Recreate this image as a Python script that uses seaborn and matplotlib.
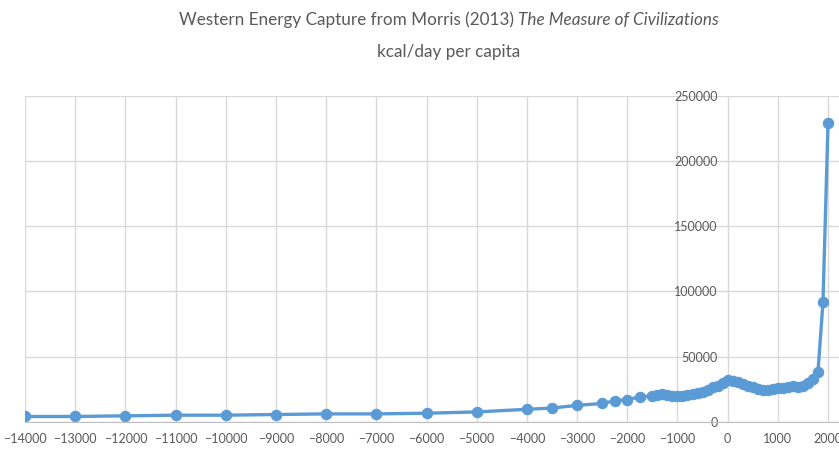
import matplotlib
matplotlib.use("Agg")
import matplotlib.pyplot as plt
import seaborn as sns
import pandas as pd

# Morris (2013) western energy capture, kcal/day per capita
years = [-14000, -13000, -12000, -11000, -10000, -9000, -8000, -7000, -6000,
         -5000, -4000, -3500, -3000, -2500, -2250, -2000, -1750,
         -1500, -1400, -1300, -1200, -1100, -1000, -900, -800, -700, -600,
         -500, -400, -300, -200, -100, 0, 100, 200, 300, 400, 500, 600, 700,
         800, 900, 1000, 1100, 1200, 1300, 1400, 1500, 1600, 1700, 1800,
         1900, 2000]
energy = [4000, 4000, 4500, 5000, 5000, 5500, 6000, 6000, 6500,
          7500, 9500, 10500, 12500, 14000, 16000, 17000, 19000,
          20000, 20500, 21200, 20500, 20000, 20000, 20000, 20500, 21000, 21700,
          23000, 24300, 26400, 27600, 29400, 32000, 31200, 30200, 28700, 27400,
          26400, 25100, 24300, 24300, 24800, 25600, 26100, 26900, 27400, 26400,
          27400, 29400, 32500, 38300, 91800, 229000]
xticks = list(range(-14000, 2001, 1000))
yticks = [0, 50000, 100000, 150000, 200000, 250000]

df = pd.DataFrame({"year": years, "kcal": energy})

sns.set_style("whitegrid")
plt.rcParams['font.family'] = ['Lato', 'DejaVu Sans']
txt = "#595959"

fig = plt.figure(figsize=(8.39, 4.54), dpi=100)
ax = fig.add_axes([25 / 839, 32.3 / 454, 814 / 839, 325.9 / 454])

sns.lineplot(data=df, x="year", y="kcal", ax=ax, color="#5B9BD5",
             linewidth=2.4, marker="o", markersize=7.5,
             markeredgecolor="#5B9BD5")

ax.set_xlim(-14000, 2219)
ax.set_ylim(0, 250000)
ax.set_xticks(xticks)
ax.set_yticks(yticks)
ax.set_xlabel("")
ax.set_ylabel("")
ax.grid(True, color="#D9D9D9", linewidth=1)

# vertical axis crosses at x = 0, like the Excel original
ax.spines['left'].set_position(('data', 0))
ax.spines['left'].set_color('none')
for s in ['top', 'right']:
    ax.spines[s].set_visible(False)
ax.spines['bottom'].set_color("#BFBFBF")
ax.tick_params(axis='x', length=0, pad=8, labelsize=9, labelcolor=txt)
ax.tick_params(axis='y', length=0, pad=7, labelsize=9, labelcolor=txt)

# title with italic book name, sized to the original's width
fig.canvas.draw()
r = fig.canvas.get_renderer()
fs = 14
t1 = fig.text(0, 1 - 20 / 454, "Western Energy Capture from Morris (2013) ",
              fontsize=fs, color=txt, va="center")
t2 = fig.text(0, 1 - 20 / 454, "The Measure of Civilizations",
              fontsize=fs, color=txt, va="center", style="italic")
w = t1.get_window_extent(r).width + t2.get_window_extent(r).width
fs = fs * 540 / w
t1.set_fontsize(fs)
t2.set_fontsize(fs)
w1 = t1.get_window_extent(r).width
w2 = t2.get_window_extent(r).width
start = 449 - (w1 + w2) / 2
t1.set_x(start / 839)
t2.set_x((start + w1) / 839)
fig.text(449 / 839, 1 - 52 / 454, "kcal/day per capita", fontsize=fs,
         color=txt, ha="center", va="center")

fig.savefig("out.png", dpi=100)
